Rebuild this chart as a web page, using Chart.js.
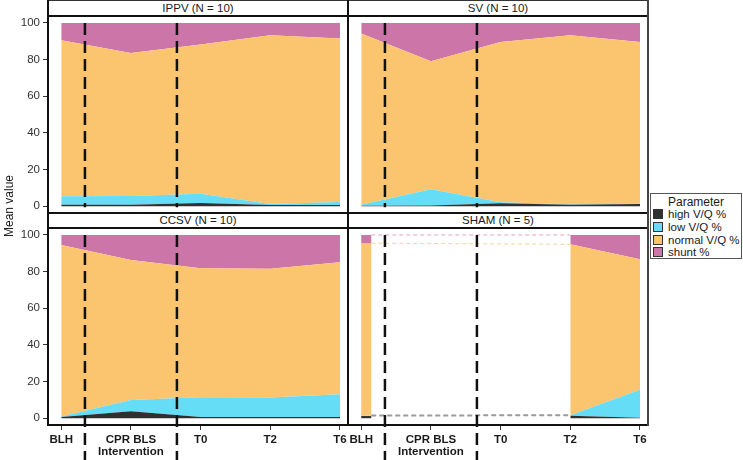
<!DOCTYPE html>
<html><head><meta charset="utf-8">
<script src="https://cdn.jsdelivr.net/npm/chart.js@4"></script>
<style>
body{margin:0;background:#fff;font-family:"Liberation Sans",Arial,sans-serif;}
#wrap{position:relative;width:743px;height:460px;overflow:hidden;background:#fff;}
canvas{position:absolute;}
.strip{position:absolute;box-sizing:border-box;background:#fff;font-size:11.5px;color:#1a1a1a;text-align:center;z-index:1;}
.ln{position:absolute;background:#111;z-index:3;}
#ytitle{position:absolute;left:9px;top:206px;transform:translate(-50%,-50%) rotate(-90deg);font-size:12px;color:#1a1a1a;white-space:nowrap;}
#legend{position:absolute;left:650px;top:193px;width:92px;height:66px;box-sizing:border-box;border:1px solid #555;background:#fff;z-index:4;}
#legend .t{position:absolute;left:0;width:100%;top:1px;text-align:center;font-size:12px;color:#1a1a1a;}
#legend .it{position:absolute;left:2px;font-size:11.5px;color:#1a1a1a;white-space:nowrap;line-height:12px;}
#legend .sw{display:inline-block;width:8px;height:8px;border:1px solid #333;vertical-align:-1px;margin-right:5px;}
</style></head>
<body><div id="wrap">
<canvas id="cTL" width="348" height="197" style="left:0;top:16px"></canvas>
<canvas id="cTR" width="300" height="197" style="left:348px;top:16px"></canvas>
<canvas id="cBL" width="348" height="232" style="left:0;top:228px"></canvas>
<canvas id="cBR" width="300" height="232" style="left:348px;top:228px"></canvas>
<div id="ytitle">Mean value</div>
<div id="legend"></div>
</div>
<script>
// ---------- data ----------
const categories = ["BLH", "CPR BLS\nIntervention", "T0", "T2", "T6"];
const yTickValues = [0, 20, 40, 60, 80, 100];
const phaseBoundaries = [0.34, 1.66];
const parameterNames = ["high V/Q %", "low V/Q %", "normal V/Q %", "shunt %"];

const ippvHigh   = [0.8, 0.8, 1.8, 0.6, 0.6];
const ippvLow    = [4.7, 4.8, 5.0, 0.6, 1.7];
const ippvNormal = [85.0, 78.0, 81.4, 92.1, 89.2];
const ippvShunt  = [9.5, 16.4, 11.8, 6.7, 8.5];

const svHigh   = [0.3, 0.4, 1.6, 0.8, 1.2];
const svLow    = [0.5, 8.9, 0.6, 0.3, 0.2];
const svNormal = [93.4, 69.8, 87.4, 92.2, 88.2];
const svShunt  = [5.8, 20.9, 10.4, 6.7, 10.4];

const ccsvHigh   = [0.6, 3.8, 0.7, 0.6, 0.6];
const ccsvLow    = [0.3, 6.2, 10.8, 10.7, 12.5];
const ccsvNormal = [93.6, 76.4, 70.3, 70.2, 72.0];
const ccsvShunt  = [5.5, 13.6, 18.2, 18.5, 14.9];

const shamHigh   = [1.2, null, null, 1.3, 0.3];
const shamLow    = [0.3, null, null, 0.3, 15.2];
const shamNormal = [94.0, null, null, 93.3, 71.2];
const shamShunt  = [4.5, null, null, 5.1, 13.3];

const panelTitles = ["IPPV (N = 10)", "SV (N = 10)", "CCSV (N = 10)", "SHAM (N = 5)"];

// ---------- style ----------
const colors = ["#2f2f2f", "#66ddf7", "#fbc46e", "#cc75a8"];
const ghostColors = ["#9a9a9a", "#9a9a9a", "#f7d39a", "#e2a2c8"];
const FONT = '"Liberation Sans", Arial, sans-serif';
const SHAM_STRIP_PX = 10;

// ---------- frame ----------
const wrap = document.getElementById('wrap');
function addDiv(cls, css, text){ const d=document.createElement('div'); d.className=cls; Object.assign(d.style, css); if(text) d.textContent=text; wrap.appendChild(d); return d; }
const stripPos = [[48,0,16],[348,0,16],[48,213,15],[348,213,15]];
stripPos.forEach((p,i)=>addDiv('strip',{left:p[0]+'px',top:p[1]+'px',width:'300px',height:p[2]+'px',lineHeight:p[2]+'px'}, panelTitles[i]));
addDiv('ln',{left:'47px',top:'0px',width:'602px',height:'1px',background:'#333'});
addDiv('ln',{left:'47px',top:'15px',width:'602px',height:'2px'});
addDiv('ln',{left:'47px',top:'212px',width:'602px',height:'2px'});
addDiv('ln',{left:'47px',top:'227px',width:'602px',height:'2px'});
addDiv('ln',{left:'47px',top:'424px',width:'602px',height:'2px'});
addDiv('ln',{left:'47px',top:'0px',width:'2px',height:'426px'});
addDiv('ln',{left:'347px',top:'0px',width:'2px',height:'426px'});
addDiv('ln',{left:'647px',top:'0px',width:'1.5px',height:'426px',background:'#444'});

// legend
const lg = document.getElementById('legend');
const t = document.createElement('div'); t.className='t'; t.textContent='Parameter'; lg.appendChild(t);
parameterNames.forEach((n,i)=>{
  const it=document.createElement('div'); it.className='it'; it.style.top=(14+i*12.8)+'px';
  const sw=document.createElement('span'); sw.className='sw'; sw.style.background=colors[i];
  it.appendChild(sw); it.appendChild(document.createTextNode(n)); lg.appendChild(it);
});

// ---------- plugins ----------
const phasePlugin = {
  id:'phase',
  afterDatasetsDraw(chart, args, opts){
    const {ctx, scales:{x,y}} = chart;
    ctx.save();
    ctx.setLineDash([12,6]); ctx.lineWidth=2.5; ctx.strokeStyle='#111';
    const yTop = y.getPixelForValue(100);
    const yBot = opts.extend ? chart.height : y.getPixelForValue(-0.6);
    phaseBoundaries.forEach(b=>{
      const px = x.getPixelForValue(b);
      ctx.beginPath(); ctx.moveTo(px,yTop); ctx.lineTo(px,yBot); ctx.stroke();
    });
    ctx.restore();
  }
};

const gapPlugin = {
  id:'gap',
  afterDatasetsDraw(chart){
    const {ctx, scales:{x,y}} = chart;
    const series = chart.data.datasets.map(d=>d.data.map(p=>p.y));
    ctx.save();
    const x0 = x.getPixelForValue(0), x1 = x0 + SHAM_STRIP_PX;
    let base = 0;
    series.forEach((s,i)=>{
      const top = base + s[0];
      const py0 = y.getPixelForValue(base), py1 = y.getPixelForValue(top);
      ctx.fillStyle = colors[i];
      ctx.fillRect(x0, py1, x1-x0, py0-py1);
      base = top;
    });
    const nextIdx = series[0].findIndex((v,j)=>j>0 && v!==null);
    const xe = x.getPixelForValue(nextIdx);
    let cumA = 0, cumB = 0;
    series.forEach((s,i)=>{
      cumA += s[0]; cumB += s[nextIdx];
      if (i===0) return;
      ctx.beginPath();
      ctx.setLineDash(i===1 ? [5,3] : [4,3]);
      ctx.lineWidth = i===1 ? 2 : 1;
      ctx.strokeStyle = ghostColors[i];
      ctx.moveTo(x1, y.getPixelForValue(cumA));
      ctx.lineTo(xe, y.getPixelForValue(cumB));
      ctx.stroke();
    });
    ctx.restore();
  }
};

// ---------- charts ----------
function makeChart(id, seriesList, showX, showY, extend, withGap){
  const datasets = seriesList.map((arr,i)=>({
    label: parameterNames[i],
    data: arr.map((v,j)=>({x:j, y:v})),
    backgroundColor: colors[i],
    borderWidth: 0,
    pointRadius: 0,
    pointHoverRadius: 0,
    fill: i===0 ? 'origin' : '-1',
    tension: 0,
    spanGaps: false
  }));
  const plugins = withGap ? [gapPlugin, phasePlugin] : [phasePlugin];
  return new Chart(document.getElementById(id), {
    type:'line',
    data:{datasets},
    plugins,
    options:{
      responsive:false, animation:false, events:[],
      layout:{padding:0},
      plugins:{legend:{display:false}, tooltip:{enabled:false}, phase:{extend}},
      scales:{
        x:{
          type:'linear', min:-0.19, max:4.115, display:showX,
          grid:{drawOnChartArea:false, drawTicks:true, tickLength:5, color:'#333', lineWidth:1},
          border:{display:false},
          ticks:{font:{family:FONT, size:11.5, weight:'bold', lineHeight:1.05}, color:'#1a1a1a', padding:4, maxRotation:0, minRotation:0, autoSkip:false,
            callback:(v)=>categories[v] ? categories[v].split('\n') : ''},
          afterBuildTicks:s=>{ s.ticks = categories.map((_,i)=>({value:i})); },
          afterFit:s=>{ s.height = showX ? 35 : 0; s.paddingLeft = 0; s.paddingRight = 0; }
        },
        y:{
          stacked:true, min:-3.7, max:103.8, display:showY,
          grid:{drawOnChartArea:false, drawTicks:true, tickLength:5, color:'#333', lineWidth:1},
          border:{display:false},
          ticks:{font:{family:FONT, size:11.5}, color:'#333', padding:3},
          afterBuildTicks:s=>{ s.ticks = yTickValues.map(v=>({value:v})); },
          afterFit:s=>{ s.width = showY ? 48 : 0; s.paddingTop = 0; s.paddingBottom = 0; }
        }
      }
    }
  });
}

makeChart('cTL', [ippvHigh, ippvLow, ippvNormal, ippvShunt], false, true, false, false);
makeChart('cTR', [svHigh, svLow, svNormal, svShunt], false, false, false, false);
makeChart('cBL', [ccsvHigh, ccsvLow, ccsvNormal, ccsvShunt], true, true, true, false);
makeChart('cBR', [shamHigh, shamLow, shamNormal, shamShunt], true, false, true, true);
</script>
</body></html>
